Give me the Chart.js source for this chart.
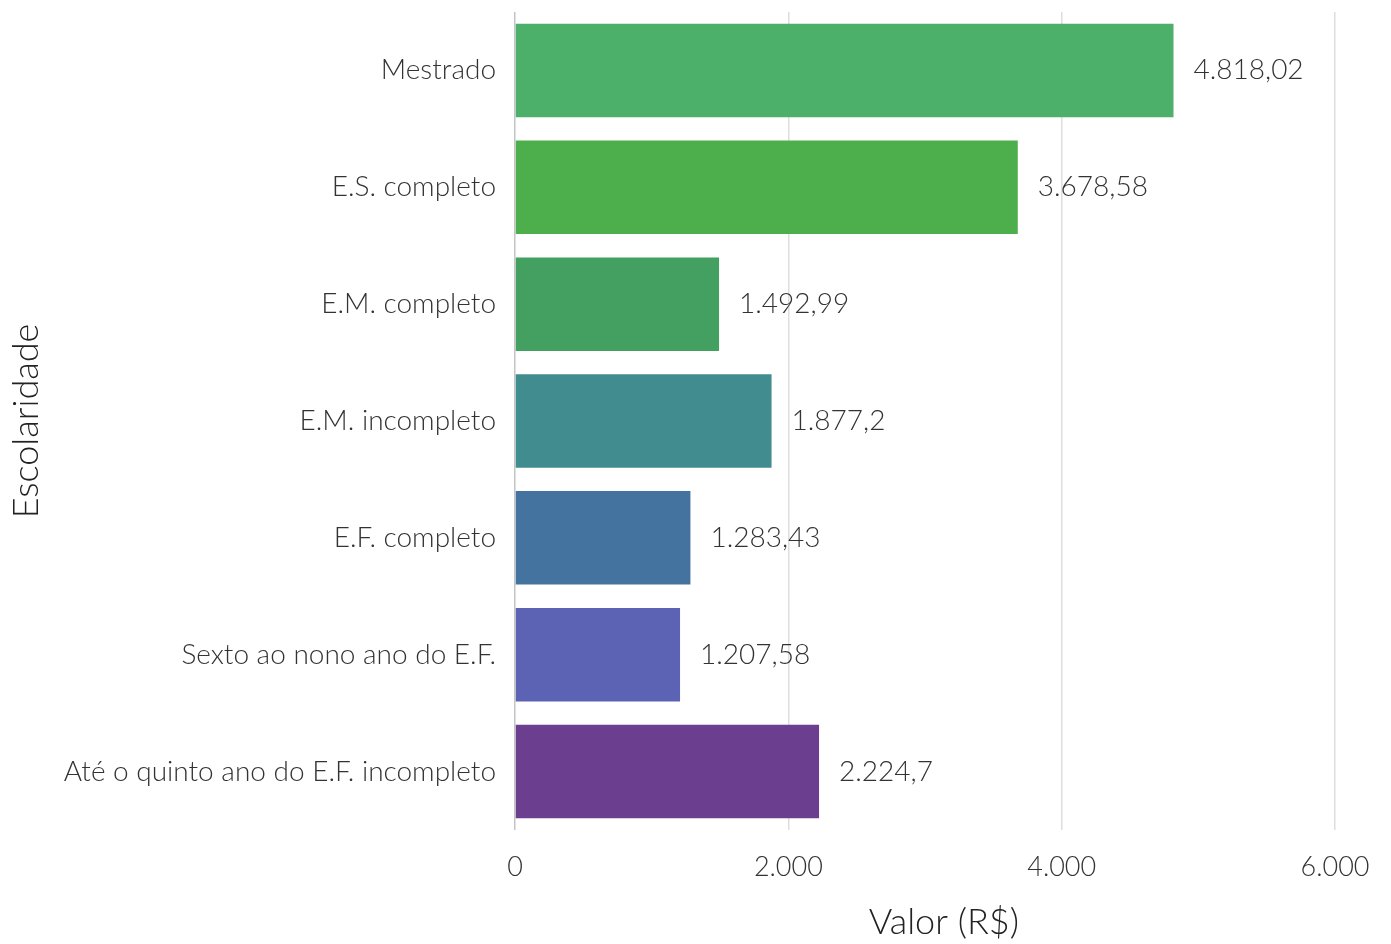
<!DOCTYPE html>
<html>
<head>
<meta charset="utf-8">
<script src="https://cdn.jsdelivr.net/npm/chart.js@4/dist/chart.umd.min.js"></script>
<style>
  html, body { margin: 0; padding: 0; background: #fff; }
  #wrap { width: 1391px; height: 944px; }
</style>
</head>
<body>
<div id="wrap"><canvas id="chart"></canvas></div>
<script>
// escolaridade x valor medio
var categorias = ['Mestrado', 'E.S. completo', 'E.M. completo', 'E.M. incompleto', 'E.F. completo', 'Sexto ao nono ano do E.F.', 'Até o quinto ano do E.F. incompleto'];
var valores = [4818.02, 3678.58, 1492.99, 1877.2, 1283.43, 1207.58, 2224.7];
var cores = ['#4caf6a', '#4caf4c', '#43a060', '#408c8e', '#44739f', '#5c63b5', '#6c3e90'];
var ticksX = [0, 2000, 4000, 6000];

var fonte = 'Lato';
var fmt = function (v, dec) {
  return v.toLocaleString('pt-BR', { minimumFractionDigits: 0, maximumFractionDigits: dec });
};

// rotulos de valor no fim da barra
var rotulos = {
  id: 'rotulos',
  afterDatasetsDraw: function (chart) {
    var ctx = chart.ctx;
    var meta = chart.getDatasetMeta(0);
    ctx.save();
    ctx.font = '300 28px ' + fonte;
    ctx.fillStyle = '#333';
    ctx.textAlign = 'left';
    ctx.textBaseline = 'middle';
    meta.data.forEach(function (bar, i) {
      ctx.fillText(fmt(valores[i], 2), bar.x + 20, bar.y);
    });
    ctx.restore();
  }
};

var ctx = document.getElementById('chart').getContext('2d');
new Chart(ctx, {
  type: 'bar',
  data: {
    labels: categorias,
    datasets: [{
      data: valores,
      backgroundColor: cores,
      borderWidth: 0,
      categoryPercentage: 1,
      barPercentage: 0.8
    }]
  },
  options: {
    indexAxis: 'y',
    responsive: true,
    maintainAspectRatio: false,
    animation: false,
    layout: { padding: { top: 12, right: 11, left: 0, bottom: 0 } },
    plugins: {
      legend: { display: false },
      tooltip: { enabled: false }
    },
    scales: {
      x: {
        min: 0,
        max: 6275,
        afterBuildTicks: function (scale) {
          scale.ticks = ticksX.map(function (v) { return { value: v }; });
        },
        afterFit: function (scale) { scale.height = 114; },
        border: { display: false },
        grid: {
          drawTicks: false,
          lineWidth: 1.5,
          color: function (c) { return c.tick && c.tick.value === 0 ? '#c4c4c4' : '#dedede'; }
        },
        ticks: {
          padding: 21,
          color: '#333',
          font: { family: fonte, size: 27, weight: '300' },
          callback: function (v) { return fmt(v, 0); }
        },
        title: {
          display: true,
          text: 'Valor (R$)',
          color: '#222',
          padding: { top: 5, bottom: 0 },
          font: { family: fonte, size: 36, weight: '300' }
        }
      },
      y: {
        afterFit: function (scale) {
          scale.width = 515;
          scale.paddingTop = 0;
          scale.paddingBottom = 0;
        },
        border: { display: false },
        grid: { display: false, drawTicks: false },
        ticks: {
          padding: 19,
          color: '#333',
          font: { family: fonte, size: 28, weight: '300' }
        },
        title: {
          display: true,
          text: 'Escolaridade',
          color: '#222',
          padding: { top: 5, bottom: 0 },
          font: { family: fonte, size: 36, weight: '300' }
        }
      }
    }
  },
  plugins: [rotulos]
});
</script>
</body>
</html>
